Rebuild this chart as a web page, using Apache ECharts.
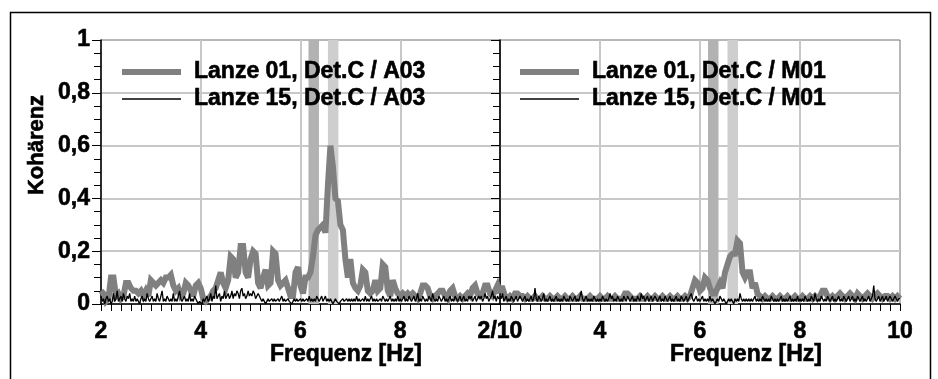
<!DOCTYPE html>
<html>
<head>
<meta charset="utf-8">
<title>Kohärenz</title>
<script src="https://cdn.jsdelivr.net/npm/echarts@6/dist/echarts.min.js"></script>
<style>
  html, body { margin: 0; padding: 0; background: #fff; }
  #chart { width: 938px; height: 379px; }
</style>
</head>
<body>
<div id="chart"></div>
<script>
// Frequency grid of the coherence spectra (Hz)
const FREQ_START = 2;
const FREQ_END = 10;
const GREY_STEP = 0.05;   // Lanze 01 resolution
const BLACK_STEP = 0.025; // Lanze 15 resolution

const seriesNames = {
  leftGrey: 'Lanze 01, Det.C / A03',
  leftBlack: 'Lanze 15, Det.C / A03',
  rightGrey: 'Lanze 01, Det.C / M01',
  rightBlack: 'Lanze 15, Det.C / M01'
};

const xTickLabelsLeft = { 2: '2', 4: '4', 6: '6', 8: '8', 10: '2/10' };
const xTickLabelsRight = { 2: '', 4: '4', 6: '6', 8: '8', 10: '10' };
const yTickLabels = { 0: '0', 0.2: '0,2', 0.4: '0,4', 0.6: '0,6', 0.8: '0,8', 1: '1' };
const axisTitleX = 'Frequenz [Hz]';
const axisTitleY = 'Kohärenz';

// Highlighted frequency bands [from, to] in Hz
const bandDark = [6.16, 6.37];
const bandLight = [6.55, 6.76];

// Lanze 01 / A03, 2.00 ... 10.00 Hz
const greyA03 = [
  0.05,0.04,0.01,0.02,0.10,0.10,0.03,0.04,0.02,0.03,0.08,0.08,0.06,0.05,0.05,0.04,0.05,0.03,0.05,0.03,
  0.09,0.08,0.07,0.08,0.09,0.08,0.10,0.10,0.11,0.07,0.05,0.06,0.03,0.04,0.08,0.07,0.05,0.03,0.07,0.08,
  0.06,0.02,0.01,0.02,0.03,0.05,0.06,0.09,0.12,0.08,0.06,0.09,0.18,0.17,0.10,0.12,0.22,0.22,0.12,0.10,
  0.17,0.20,0.19,0.08,0.06,0.10,0.13,0.07,0.08,0.20,0.19,0.09,0.07,0.08,0.09,0.06,0.03,0.03,0.12,0.14,
  0.07,0.04,0.10,0.10,0.12,0.18,0.26,0.28,0.29,0.30,0.27,0.45,0.60,0.52,0.40,0.39,0.30,0.28,0.17,0.10,
  0.17,0.08,0.06,0.05,0.07,0.13,0.12,0.05,0.04,0.05,0.09,0.05,0.06,0.15,0.14,0.05,0.03,0.09,0.06,0.04,
  0.03,0.04,0.03,0.04,0.03,0.04,0.03,0.02,0.04,0.07,0.07,0.06,0.03,0.02,0.03,0.04,0.05,0.05,0.03,0.02,
  0.05,0.06,0.03,0.02,0.03,0.02,0.03,0.04,0.03,0.06,0.07,0.04,0.03,0.04,0.07,0.07,0.04,0.03,0.05,0.07,
  0.04
];

// Lanze 15 / A03, 2.000 ... 10.000 Hz
const blackA03 = [
  0.03,0.01,0.02,0.00,0.02,0.03,0.01,0.02,0.00,0.01,0.04,0.01,0.02,0.05,0.01,0.02,0.03,0.01,0.04,0.02,
  0.01,0.03,0.02,0.04,0.01,0.02,0.01,0.03,0.01,0.02,0.01,0.00,0.02,0.03,0.01,0.02,0.01,0.04,0.02,0.01,
  0.02,0.03,0.01,0.02,0.01,0.04,0.02,0.01,0.03,0.05,0.01,0.02,0.01,0.03,0.02,0.01,0.02,0.01,0.04,0.01,
  0.02,0.01,0.03,0.05,0.02,0.01,0.02,0.03,0.01,0.02,0.01,0.04,0.01,0.02,0.01,0.03,0.02,0.01,0.00,0.01,
  0.01,0.00,0.02,0.01,0.02,0.03,0.01,0.02,0.04,0.01,0.03,0.02,0.07,0.02,0.03,0.04,0.01,0.03,0.02,0.05,
  0.02,0.03,0.04,0.02,0.03,0.05,0.02,0.04,0.03,0.05,0.04,0.02,0.05,0.06,0.03,0.04,0.02,0.03,0.05,0.03,
  0.04,0.03,0.05,0.04,0.02,0.03,0.04,0.03,0.02,0.01,0.02,0.01,0.00,0.01,0.02,0.01,0.01,0.02,0.01,0.02,
  0.01,0.01,0.02,0.01,0.02,0.03,0.01,0.02,0.01,0.01,0.02,0.01,0.01,0.00,0.01,0.02,0.01,0.02,0.01,0.01,
  0.02,0.01,0.02,0.01,0.01,0.02,0.01,0.03,0.01,0.02,0.01,0.02,0.01,0.03,0.02,0.01,0.02,0.03,0.01,0.02,
  0.03,0.01,0.02,0.01,0.02,0.01,0.00,0.01,0.02,0.01,0.01,0.00,0.01,0.01,0.02,0.01,0.01,0.02,0.01,0.02,
  0.01,0.02,0.01,0.02,0.01,0.03,0.01,0.02,0.01,0.01,0.02,0.01,0.03,0.01,0.02,0.01,0.02,0.03,0.01,0.02,
  0.01,0.02,0.01,0.01,0.02,0.01,0.03,0.02,0.01,0.02,0.01,0.02,0.03,0.01,0.02,0.01,0.02,0.01,0.03,0.01,
  0.02,0.01,0.02,0.03,0.01,0.02,0.01,0.03,0.02,0.01,0.02,0.03,0.01,0.02,0.04,0.01,0.02,0.01,0.03,0.02,
  0.01,0.02,0.01,0.03,0.02,0.01,0.04,0.02,0.01,0.02,0.01,0.03,0.02,0.01,0.02,0.03,0.01,0.02,0.01,0.02,
  0.03,0.01,0.02,0.01,0.03,0.02,0.01,0.02,0.03,0.01,0.02,0.03,0.01,0.02,0.01,0.03,0.02,0.03,0.01,0.02,
  0.03,0.01,0.02,0.03,0.02,0.03,0.01,0.02,0.04,0.02,0.03,0.01,0.02,0.03,0.05,0.02,0.03,0.01,0.03,0.02,
  0.02
];

// Lanze 01 / M01, 2.00 ... 10.00 Hz
const greyM01 = [
  0.06,0.06,0.03,0.02,0.03,0.02,0.04,0.04,0.03,0.03,0.02,0.03,0.02,0.02,0.03,0.02,0.02,0.03,0.02,0.02,
  0.03,0.02,0.02,0.03,0.02,0.02,0.03,0.02,0.02,0.03,0.02,0.02,0.03,0.02,0.02,0.02,0.03,0.02,0.02,0.02,
  0.03,0.02,0.02,0.03,0.02,0.02,0.03,0.02,0.02,0.02,0.04,0.04,0.03,0.02,0.02,0.02,0.03,0.02,0.02,0.03,
  0.02,0.02,0.03,0.02,0.02,0.03,0.02,0.02,0.03,0.02,0.02,0.03,0.02,0.02,0.03,0.02,0.03,0.06,0.09,0.08,
  0.05,0.06,0.10,0.09,0.06,0.04,0.04,0.06,0.08,0.06,0.12,0.15,0.18,0.19,0.19,0.24,0.23,0.12,0.10,0.12,
  0.12,0.06,0.08,0.04,0.03,0.02,0.03,0.02,0.02,0.03,0.02,0.02,0.03,0.02,0.02,0.03,0.02,0.02,0.03,0.02,
  0.02,0.03,0.02,0.02,0.03,0.02,0.03,0.02,0.03,0.05,0.05,0.03,0.02,0.03,0.02,0.03,0.04,0.03,0.02,0.03,
  0.04,0.03,0.02,0.04,0.03,0.02,0.03,0.04,0.03,0.02,0.03,0.04,0.03,0.02,0.03,0.03,0.02,0.03,0.02,0.03,
  0.02
];

// Lanze 15 / M01, 2.000 ... 10.000 Hz
const blackM01 = [
  0.03,0.02,0.04,0.01,0.02,0.03,0.01,0.02,0.01,0.03,0.02,0.01,0.02,0.03,0.01,0.02,0.03,0.02,0.01,0.02,
  0.03,0.01,0.02,0.01,0.02,0.03,0.01,0.02,0.06,0.02,0.01,0.03,0.02,0.01,0.02,0.04,0.01,0.02,0.01,0.02,
  0.03,0.01,0.02,0.01,0.02,0.03,0.01,0.02,0.01,0.02,0.01,0.03,0.02,0.01,0.02,0.01,0.03,0.02,0.01,0.02,
  0.03,0.01,0.02,0.01,0.03,0.05,0.02,0.01,0.02,0.03,0.01,0.02,0.01,0.02,0.01,0.03,0.02,0.01,0.02,0.01,
  0.02,0.01,0.03,0.02,0.01,0.02,0.01,0.02,0.04,0.02,0.03,0.01,0.02,0.01,0.03,0.02,0.01,0.02,0.01,0.03,
  0.02,0.01,0.03,0.02,0.01,0.02,0.03,0.01,0.02,0.01,0.03,0.02,0.01,0.04,0.02,0.03,0.01,0.02,0.03,0.01,
  0.02,0.03,0.01,0.02,0.03,0.02,0.01,0.02,0.03,0.01,0.02,0.01,0.03,0.02,0.01,0.02,0.03,0.01,0.02,0.01,
  0.02,0.03,0.01,0.02,0.01,0.03,0.02,0.01,0.02,0.03,0.01,0.02,0.03,0.04,0.02,0.01,0.02,0.03,0.01,0.02,
  0.01,0.02,0.03,0.01,0.02,0.01,0.02,0.01,0.03,0.01,0.02,0.01,0.00,0.01,0.02,0.01,0.03,0.02,0.01,0.02,
  0.01,0.00,0.01,0.02,0.01,0.02,0.01,0.00,0.02,0.01,0.02,0.01,0.04,0.02,0.01,0.02,0.01,0.02,0.01,0.02,
  0.01,0.02,0.01,0.02,0.03,0.01,0.02,0.01,0.02,0.01,0.03,0.02,0.01,0.02,0.01,0.02,0.01,0.03,0.02,0.01,
  0.02,0.01,0.02,0.01,0.02,0.03,0.01,0.02,0.01,0.02,0.01,0.02,0.03,0.01,0.02,0.01,0.02,0.01,0.03,0.01,
  0.02,0.01,0.02,0.01,0.03,0.02,0.01,0.02,0.01,0.03,0.02,0.01,0.04,0.02,0.01,0.02,0.01,0.03,0.02,0.01,
  0.02,0.01,0.03,0.02,0.01,0.02,0.03,0.01,0.02,0.01,0.02,0.03,0.01,0.02,0.01,0.03,0.02,0.01,0.02,0.03,
  0.01,0.02,0.03,0.01,0.02,0.01,0.03,0.02,0.01,0.02,0.03,0.01,0.02,0.01,0.02,0.03,0.01,0.02,0.03,0.07,
  0.02,0.01,0.02,0.03,0.01,0.02,0.03,0.01,0.02,0.03,0.01,0.02,0.03,0.02,0.01,0.02,0.03,0.02,0.01,0.02,
  0.02
];

// Pair each value with its frequency on the sampling grid
function toPoints(values, step) {
  return values.map((v, i) => [+(FREQ_START + i * step).toFixed(3), v]);
}

const FONT = 'Liberation Sans, Arial, sans-serif';
const GRID_COLOR = '#c8c8c8';
const LINE_GREY = '#808080';
const BAND_DARK = '#b2b2b2';
const BAND_LIGHT = '#cecece';
const GREY_WIDTH = 6;
const BLACK_WIDTH = 1.3;

// heavier bold for all chart text
const boldText = { fontFamily: FONT, fontWeight: 'bold', color: '#000', textBorderColor: '#000', textBorderWidth: 0.6 };

const chart = echarts.init(document.getElementById('chart'), null, { renderer: 'canvas' });

function xAxisFor(gridIndex, labels) {
  return {
    type: 'value', gridIndex, min: FREQ_START, max: FREQ_END, interval: 2,
    axisLine: { show: true, onZero: false, lineStyle: { color: '#000', width: 1.5 } },
    axisTick: { show: true, length: 7, lineStyle: { color: '#000', width: 1 } },
    minorTick: { show: true, splitNumber: 10, length: 7, lineStyle: { color: '#000', width: 1 } },
    splitLine: { show: true, showMinLine: false, showMaxLine: false, lineStyle: { color: GRID_COLOR, width: 2 } },
    axisLabel: Object.assign({
      show: true, showMinLabel: true, showMaxLabel: true, margin: 16, fontSize: 23,
      formatter: v => labels[Math.round(v)] ?? ''
    }, boldText)
  };
}

function yAxisFor(gridIndex, showLabels) {
  return {
    type: 'value', gridIndex, min: 0, max: 1, interval: 0.2,
    axisLine: { show: true, lineStyle: { color: '#000', width: 1.5 } },
    axisTick: { show: true, length: 9, lineStyle: { color: '#000', width: 1 } },
    minorTick: { show: true, splitNumber: 4, length: 7, lineStyle: { color: '#000', width: 1 } },
    splitLine: { show: true, showMinLine: false, showMaxLine: false, lineStyle: { color: GRID_COLOR, width: 2 } },
    axisLabel: Object.assign({
      show: showLabels, margin: 11, fontSize: 23,
      formatter: v => yTickLabels[+v.toFixed(1)] ?? ''
    }, boldText)
  };
}

function bandSeries(axisIndex, band, color, z) {
  return {
    type: 'line', name: 'band-' + axisIndex + '-' + z,
    xAxisIndex: axisIndex, yAxisIndex: axisIndex, data: [], z,
    silent: true, symbol: 'none',
    markArea: {
      silent: true,
      itemStyle: { color, opacity: 1 },
      data: [[{ xAxis: band[0] }, { xAxis: band[1] }]]
    }
  };
}

function greySeries(axisIndex, name, values) {
  return {
    type: 'line', name, xAxisIndex: axisIndex, yAxisIndex: axisIndex,
    data: toPoints(values, GREY_STEP), z: 3,
    symbol: 'none', animation: false,
    lineStyle: { color: LINE_GREY, width: GREY_WIDTH, join: 'miter', miterLimit: 3 },
    itemStyle: { color: LINE_GREY }
  };
}

function blackSeries(axisIndex, name, values) {
  return {
    type: 'line', name, xAxisIndex: axisIndex, yAxisIndex: axisIndex,
    data: toPoints(values, BLACK_STEP), z: 5,
    symbol: 'none', animation: false,
    lineStyle: { color: '#000', width: BLACK_WIDTH },
    itemStyle: { color: '#000' }
  };
}

function legendFor(left, greyName, blackName) {
  return {
    left, top: 59, padding: 0, orient: 'vertical', itemWidth: 59, itemHeight: 12, itemGap: 1,
    selectedMode: false,
    itemStyle: { opacity: 0 },
    data: [
      { name: greyName, lineStyle: { color: LINE_GREY, width: GREY_WIDTH } },
      { name: blackName, lineStyle: { color: '#000', width: 1.5 } }
    ],
    textStyle: Object.assign({ fontSize: 23, lineHeight: 26, padding: [0, 0, 0, 8] }, boldText)
  };
}

const option = {
  animation: false,
  backgroundColor: '#fff',
  grid: [
    { left: 101, top: 40, width: 399, height: 264, show: true, borderColor: '#707070', borderWidth: 1, backgroundColor: 'transparent' },
    { left: 500, top: 40, width: 400, height: 264, show: true, borderColor: '#707070', borderWidth: 1, backgroundColor: 'transparent' }
  ],
  xAxis: [xAxisFor(0, xTickLabelsLeft), xAxisFor(1, xTickLabelsRight)],
  yAxis: [yAxisFor(0, true), yAxisFor(1, false)],
  legend: [
    legendFor(119, seriesNames.leftGrey, seriesNames.leftBlack),
    legendFor(517, seriesNames.rightGrey, seriesNames.rightBlack)
  ],
  series: [
    bandSeries(0, bandLight, BAND_LIGHT, 1),
    greySeries(0, seriesNames.leftGrey, greyA03),
    bandSeries(0, bandDark, BAND_DARK, 4),
    blackSeries(0, seriesNames.leftBlack, blackA03),
    bandSeries(1, bandLight, BAND_LIGHT, 1),
    greySeries(1, seriesNames.rightGrey, greyM01),
    bandSeries(1, bandDark, BAND_DARK, 4),
    blackSeries(1, seriesNames.rightBlack, blackM01)
  ],
  graphic: [
    {
      type: 'rect', silent: true, z: 0,
      shape: { x: 10.5, y: 12.5, width: 920, height: 380 },
      style: { fill: 'none', stroke: '#000', lineWidth: 1.5 }
    },
    {
      type: 'text', x: 37, y: 145, rotation: Math.PI / 2, silent: true,
      style: { text: axisTitleY, font: 'bold 22px ' + FONT, fill: '#000', stroke: '#000', lineWidth: 0.6, textAlign: 'center', textVerticalAlign: 'middle' }
    },
    {
      type: 'text', x: 346, y: 355, silent: true,
      style: { text: axisTitleX, font: 'bold 23px ' + FONT, fill: '#000', stroke: '#000', lineWidth: 0.6, textAlign: 'center', textVerticalAlign: 'middle' }
    },
    {
      type: 'text', x: 746, y: 355, silent: true,
      style: { text: axisTitleX, font: 'bold 23px ' + FONT, fill: '#000', stroke: '#000', lineWidth: 0.6, textAlign: 'center', textVerticalAlign: 'middle' }
    }
  ]
};

chart.setOption(option);
</script>
</body>
</html>
